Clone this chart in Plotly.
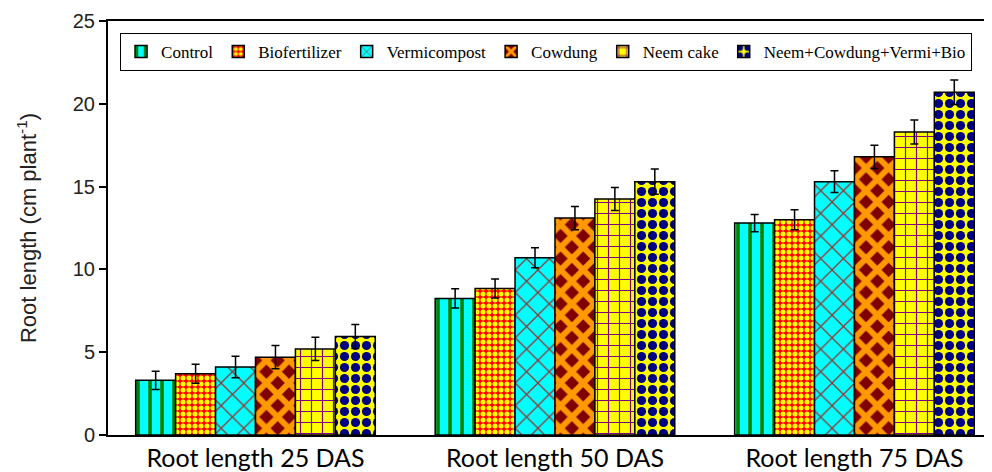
import plotly.graph_objects as go

categories = ["Root length 25 DAS", "Root length 50 DAS", "Root length 75 DAS"]
series_names = ["Control", "Biofertilizer", "Vermicompost", "Cowdung", "Neem cake", "Neem+Cowdung+Vermi+Bio"]

control = [3.3, 8.25, 12.8]
biofertilizer = [3.7, 8.85, 13.0]
vermicompost = [4.1, 10.7, 15.3]
cowdung = [4.7, 13.1, 16.8]
neem_cake = [5.2, 14.25, 18.3]
combo = [5.95, 15.3, 20.7]

control_err = [0.55, 0.58, 0.52]
biofertilizer_err = [0.57, 0.57, 0.6]
vermicompost_err = [0.65, 0.6, 0.65]
cowdung_err = [0.7, 0.7, 0.7]
neem_cake_err = [0.7, 0.7, 0.72]
combo_err = [0.72, 0.76, 0.74]

values = [control, biofertilizer, vermicompost, cowdung, neem_cake, combo]
errors = [control_err, biofertilizer_err, vermicompost_err, cowdung_err, neem_cake_err, combo_err]

patterns = [
    dict(shape="|", bgcolor="#00FFFF", fgcolor="#008000", size=12, solidity=0.3),
    dict(shape=".", bgcolor="#FF0000", fgcolor="#FFFF00", size=6, solidity=0.55),
    dict(shape="x", bgcolor="#00FFFF", fgcolor="#993333", size=16, solidity=0.15),
    dict(shape="x", bgcolor="#800000", fgcolor="#FF9900", size=16, solidity=0.6),
    dict(shape="+", bgcolor="#FFFF00", fgcolor="#800080", size=11, solidity=0.2),
    dict(shape=".", bgcolor="#FFFF00", fgcolor="#000080", size=11, solidity=0.55),
]

fig = go.Figure()
for name, vals, errs, pat in zip(series_names, values, errors, patterns):
    fig.add_trace(go.Bar(
        name=name, x=categories, y=vals,
        marker=dict(color=pat["bgcolor"], pattern=dict(shape=pat["shape"], bgcolor=pat["bgcolor"],
                    fgcolor=pat["fgcolor"], size=pat["size"], solidity=pat["solidity"], fillmode="replace"),
                    line=dict(color="black", width=1.5)),
        error_y=dict(type="data", array=errs, color="black", thickness=1.5, width=4),
    ))

fig.update_layout(
    width=992, height=472,
    margin=dict(l=100, r=0, t=13, b=45),
    plot_bgcolor="white", paper_bgcolor="white",
    barmode="group", bargap=0.2, bargroupgap=0,
    legend=dict(orientation="h", x=0.0135, y=0.971, xanchor="left", yanchor="top",
                bordercolor="black", borderwidth=1, bgcolor="white",
                font=dict(family="Liberation Serif", size=17, color="black"),
                itemwidth=30, tracegroupgap=0),
    xaxis=dict(range=[-0.4925, 2.486], showline=True, linecolor="black", linewidth=2, mirror=True,
               ticks="", tickfont=dict(family="Lato", size=25, color="black"), showgrid=False,
               automargin=False),
    yaxis=dict(range=[0, 25], dtick=5, showline=True, linecolor="black", linewidth=2,
               ticks="outside", ticklen=7, tickwidth=2, tickcolor="black", automargin=False,
               tickfont=dict(family="Liberation Sans", size=20, color="#222"), showgrid=False, zeroline=False,
               title=dict(text="Root length (cm plant<sup>-1</sup>)", font=dict(family="Liberation Sans", size=22, color="#222"), standoff=30)),
)

fig.write_html("out.html")
